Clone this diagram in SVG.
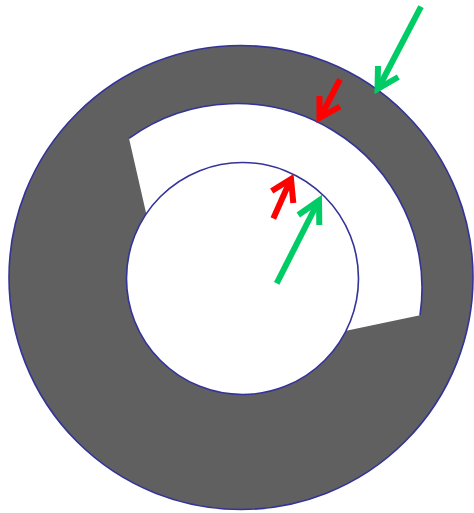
<svg xmlns="http://www.w3.org/2000/svg" width="474" height="513" viewBox="0 0 474 513">
<style>
.edge{stroke:#333399;stroke-width:1.6;}
.arr{fill:none;stroke-width:6;stroke-linecap:butt;stroke-linejoin:miter;stroke-miterlimit:10;}
.g{stroke:#00cc66;}
.r{stroke:#ff0000;}
</style>
<rect width="474" height="513" fill="#ffffff"/>
<g id="outer-ring">
<circle cx="241" cy="277.5" r="232" fill="#606060" class="edge"/>
</g>
<g id="cutout">
<path d="M129,138.3 A185,185 0 0 1 420,315.3 L345,331 L146.7,215.7 Z" fill="#ffffff" stroke="none"/>
<path d="M129,138.3 A185,185 0 0 1 420,315.3" fill="none" class="edge"/>
</g>
<g id="inner-circle">
<circle cx="242.5" cy="278.5" r="116" fill="#ffffff" class="edge"/>
</g>
<g id="connectors">
<line class="arr g" x1="421" y1="6.7" x2="379" y2="87"/>
<polyline class="arr g" points="378,66 377.5,89 398.3,77"/>
<line class="arr r" x1="340" y1="79.3" x2="321" y2="116"/>
<polyline class="arr r" points="319.5,96 319.5,118 340,106.5"/>
<line class="arr r" x1="273.3" y1="218.5" x2="290" y2="181"/>
<polyline class="arr r" points="271.7,191 291,179 293.3,203"/>
<line class="arr g" x1="276.7" y1="283.3" x2="318" y2="202"/>
<polyline class="arr g" points="298.3,215 319,200.5 319.3,225"/>
</g>
</svg>
